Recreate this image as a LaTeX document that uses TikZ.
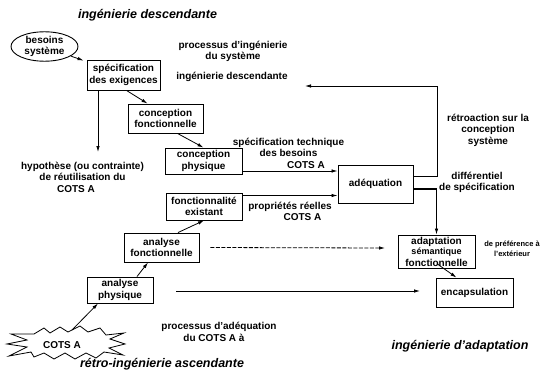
\documentclass[tikz,border=0pt]{standalone}
\usepackage{fontspec}
\setmainfont{Liberation Sans}
\usetikzlibrary{arrows.meta,shapes.geometric,calc}

\begin{document}
\begin{tikzpicture}[x=1pt,y=-1pt,
  every node/.style={font=\bfseries\fontsize{10}{11.5}\selectfont},
  box/.style={draw,line width=0.9pt,inner sep=0pt,align=center,fill=white},
  lbl/.style={inner sep=0pt,align=center},
  title/.style={inner sep=0pt,font=\bfseries\itshape\fontsize{12.5}{14}\selectfont},
  small/.style={inner sep=0pt,align=center,font=\bfseries\fontsize{7.5}{10}\selectfont},
  arr/.style={line width=0.8pt,-{Latex[length=6pt,width=3.5pt]}},
  link/.style={line width=0.8pt},
]
\useasboundingbox (0,0) rectangle (546,372);

% phase titles
\node[title] (tdesc) at (147.5,15) {ingénierie descendante};
\node[title] (tretro) at (162,364) {rétro-ingénierie ascendante};
\node[title] (tadapt) at (460,346) {ingénierie d'adaptation};

% needs
\node[draw,ellipse,line width=0.9pt,minimum width=67pt,minimum height=27pt,inner sep=0pt,align=center] (besoins) at (44.5,46.5) {besoins\\système};

% descending engineering
\node[box,minimum width=73pt,minimum height=30pt] (spec) at (123.5,75) {spécification\\des exigences};
\node[box,minimum width=75pt,minimum height=29pt] (concfonc) at (165.5,118.5) {conception\\fonctionnelle};
\node[box,minimum width=77pt,minimum height=26pt] (concphys) at (203.5,161) {conception\\physique};

% adequation
\node[box,minimum width=75pt,minimum height=38pt] (adequation) at (375.5,184) {adéquation};

% ascending reverse engineering
\node[box,minimum width=76pt,minimum height=27pt] (fonctexist) at (204,206.5) {fonctionnalité\\existant};
\node[box,minimum width=75pt,minimum height=29pt] (analfonc) at (161.5,247.5) {analyse\\fonctionnelle};
\node[box,minimum width=66pt,minimum height=26pt] (analphys) at (120,290) {analyse\\physique};

% adaptation engineering
\node[box,minimum width=77pt,minimum height=33pt] (adaptation) at (436.5,251.5)
  {\fontsize{10}{9}\selectfont adaptation\\[-1pt]\fontsize{9}{9}\selectfont sémantique\\\fontsize{10}{9}\selectfont fonctionnelle};
\node[box,minimum width=77pt,minimum height=29pt] (encaps) at (474.5,292.5) {encapsulation};

% COTS A component
\draw[line width=0.8pt,fill=white]
  (34,334) -- (44,328) -- (50,333) -- (60,327) -- (68,332) -- (80,326) -- (88,332) -- (100,328) -- (106,335)
  -- (124,333) -- (110,339) -- (125,344) -- (109,348) -- (123,355) -- (104,352)
  -- (96,358) -- (86,353) -- (75,359) -- (65,353) -- (54,359) -- (44,353) -- (34,357)
  -- (31,352) -- (9,356) -- (27,347) -- (7,344) -- (27,340) -- (11,334) -- cycle;
\node[lbl] (cots) at (62,345.5) {COTS A};
\coordinate (cotstop) at (72,330);

% labels
\node[lbl] (procing) at (233,51.5) {processus d'ingénierie\\du système};
\node[lbl] (ingdesc) at (232,77) {ingénierie descendante};
\node[lbl] (hypo) at (82.5,177) {hypothèse (ou contrainte)\\de réutilisation du\\COTS A\hspace*{13pt}};
\node[lbl] (spectech) at (288.5,153) {spécification technique\\des besoins\\\hspace*{35pt}COTS A};
\node[lbl] (propr) at (290,211.5) {propriétés réelles\\\hspace*{25pt}COTS A};
\node[lbl] (retro) at (488,130) {rétroaction sur la\\conception\\système};
\node[lbl] (diff) at (477,182.5) {différentiel\\de spécification};
\node[small] (pref) at (512,249) {de préférence à\\l'extérieur};
\node[lbl] (procadq) at (219,332) {processus d'adéquation\\du COTS A à\hspace*{10pt}};

% connector end points
\coordinate (hypend) at (98,152);
\coordinate (fbturn) at (437,86);
\coordinate (fbend) at (305,86);
\coordinate (dashend) at (385,248);
\coordinate (solidend) at (420,291);

% descending chain
\draw[arr] (besoins.-20) -- ($(spec.north west)+(-3,1)$);
\draw[arr] (spec.south -| hypend) -- (hypend);
\draw[arr] ($(spec.south)+(3,0)$) -- ($(concfonc.north)+(-18,0)$);
\draw[arr] ($(concfonc.south)+(12,0)$) -- (concphys.north);
\draw[arr] ($(concphys.east)+(0,10)$) coordinate (cp) -- (cp -| adequation.west);

% ascending chain
\draw[arr] (cotstop) -- ($(analphys.south)+(-22,0)$);
\draw[arr] ($(analphys.north)+(17,0)$) -- ($(analfonc.south)+(-13.5,0)$);
\draw[arr] ($(analfonc.north)+(16.5,0)$) -- (fonctexist.south);
\draw[arr] ($(fonctexist.east)+(0,-11)$) coordinate (fe) -- (fe -| adequation.west);

% feedback and differential
\draw[arr] ($(adequation.east)+(0,-8)$) -| (fbturn) -- (fbend);
\draw[line width=2pt] ($(adequation.east)+(0,5)$) coordinate (dq) -- (dq -| adaptation.north) coordinate (dc);
\draw[arr] ([yshift=1pt]dc) -- (adaptation.north);
\draw[arr] ($(adaptation.south)+(1.5,-4)$) -- ($(encaps.north)+(-18,0)$);

% adequation process lines
\draw[arr,dash pattern=on 4pt off 1.5pt] ($(analfonc.east)+(11,0)$) -- (dashend);
\draw[arr] ($(analphys.east)+(23,1)$) -- (solidend);
\end{tikzpicture}
\end{document}
